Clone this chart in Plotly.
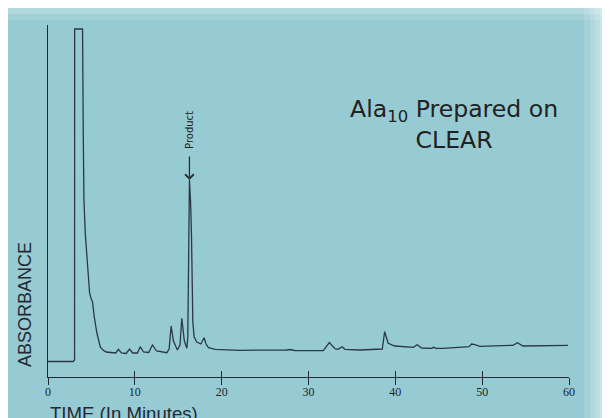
import plotly.graph_objects as go

# ---- data ----
times = [0, 0.05, 2.9, 3.0, 3.06, 3.07, 3.98, 4.06, 4.14, 4.29, 4.56, 4.79, 4.98,
         5.13, 5.33, 5.63, 6.02, 6.33, 6.7, 7.3, 7.8, 8.12, 8.45, 9.0, 9.39, 9.75,
         10.3, 10.62, 11.0, 11.6, 12.03, 12.5, 13.69, 13.95, 14.18, 14.45, 14.9,
         15.2, 15.41, 15.7, 15.99, 16.1, 16.2, 16.29, 16.42, 16.52, 16.68, 16.83,
         17.14, 17.6, 17.98, 18.2, 18.48, 19.25, 22.1, 26.0, 27.5, 27.9, 28.4,
         31.7, 32.4, 33.05, 33.4, 33.86, 34.2, 35.93, 38.5, 38.77, 39.18, 39.95,
         42.06, 42.52, 43.03, 44.17, 44.4, 44.7, 45.51, 48.5, 48.78, 49.17, 49.72,
         53.56, 54.06, 54.7, 59.9]
absorbance = [15.5, 15.5, 15.5, 16.5, 17, 348, 348, 244, 177, 144, 110, 84, 78,
              75, 60, 44, 30, 27, 25, 24.5, 24, 27.7, 24, 23.5, 28, 24,
              24, 30.3, 25, 24.5, 32, 26, 24.3, 28, 51, 36, 27,
              32, 58.7, 36, 28.7, 40, 150, 197, 175, 144, 55, 40,
              35, 33, 39.3, 33, 29.3, 27.7, 26.7, 26.5, 27, 27.5, 26.5,
              26.3, 34.5, 28.3, 27.7, 30.3, 27.7, 27, 28, 45.3, 33.7, 31,
              29.7, 32.3, 29, 28.7, 29.7, 28.7, 28.7, 30.3, 33, 32.3, 30.7,
              31.7, 34.3, 31, 31.7]
tick_vals = [0, 10, 20, 30, 40, 50, 60]
tick_text = ["0", "10", "20", "30", "40", "50", "60"]
product_time = 16.29
product_peak = 197

# page has an 8px body margin; figure is sized to fill the rest of the window
OFF = 8
W, H = 610 - OFF, 418 - OFF
ML, MT = 48 - OFF, 25 - OFF
PW, PH = 521, 352
MR, MB = W - ML - PW, H - MT - PH


def px(x):  # page pixel -> paper fraction
    return (x - OFF - ML) / PW


def py(y):
    return (H - MB - (y - OFF)) / PH


ink = "#222b33"

fig = go.Figure()
fig.add_trace(go.Scatter(x=times, y=absorbance, mode="lines",
                         line=dict(color="#2b3846", width=1.3),
                         hoverinfo="skip", showlegend=False))
# invisible helper trace so the second (inner-tick) axis is drawn
fig.add_trace(go.Scatter(x=[times[0], times[-1]], y=[absorbance[0], absorbance[-1]],
                         xaxis="x2", mode="lines", opacity=0,
                         hoverinfo="skip", showlegend=False))

shapes = []
for x0, a in [(584, 0.12), (590, 0.14), (595, 0.16), (600, 0.2), (605, 0.25)]:
    shapes.append(dict(type="rect", xref="paper", yref="paper", x0=px(x0), x1=px(610),
                       y0=py(418), y1=py(OFF), fillcolor=f"rgba(255,255,255,{a})",
                       line=dict(width=0), layer="below"))
for y1, a in [(20, 0.12), (14, 0.18)]:
    shapes.append(dict(type="rect", xref="paper", yref="paper", x0=px(OFF), x1=px(610),
                       y0=py(y1), y1=py(OFF), fillcolor=f"rgba(255,255,255,{a})",
                       line=dict(width=0), layer="below"))

annotations = [
    dict(text="Ala<sub>10</sub> Prepared on<br>CLEAR", xref="paper", yref="paper",
         x=px(454), y=py(125), xanchor="center", yanchor="middle", align="center",
         showarrow=False, font=dict(family="DejaVu Sans", size=23.6, color="#222")),
    dict(text="Product", xref="x", yref="y", x=product_time, y=377 - 129.5,
         textangle=-90, showarrow=False, xanchor="center", yanchor="middle",
         font=dict(family="DejaVu Sans", size=10, color="#222")),
    dict(text="", xref="x", yref="y", x=product_time, y=product_peak,
         showarrow=True, ax=0, ay=-25, arrowhead=4, arrowsize=1.3,
         arrowwidth=1.3, arrowcolor="#2a2f36"),
    dict(text="ABSORBANCE", xref="paper", yref="paper", x=px(25), y=py(305),
         textangle=-90, showarrow=False, xanchor="center", yanchor="middle",
         font=dict(family="Liberation Sans", size=18, color="#1f2a33")),
    dict(text="TIME (In Minutes)", xref="paper", yref="paper", x=px(48), y=py(413),
         showarrow=False, xanchor="left", yanchor="middle",
         font=dict(family="Liberation Sans", size=18.6, color="#1f2a33")),
]

fig.update_layout(
    width=W, height=H,
    margin=dict(l=ML, r=MR, t=MT, b=MB, pad=0),
    paper_bgcolor="#97cbd3",
    plot_bgcolor="rgba(0,0,0,0)",
    showlegend=False,
    hovermode=False,
    shapes=shapes,
    annotations=annotations,
    xaxis=dict(range=[0, 60], tickvals=tick_vals, ticktext=tick_text,
               showline=True, linecolor=ink, linewidth=1.3,
               ticks="outside", ticklen=7, tickwidth=1.3, tickcolor=ink,
               ticklabelstandoff=-4,
               showgrid=False, zeroline=False,
               tickfont=dict(family="Liberation Serif", size=12, color="#1a1f24")),
    xaxis2=dict(range=[0, 60], overlaying="x", anchor="y", side="bottom",
                tickvals=tick_vals, showticklabels=False,
                ticks="inside", ticklen=6, tickwidth=1.3, tickcolor=ink,
                showline=False, showgrid=False, zeroline=False),
    yaxis=dict(range=[0, PH], showline=True, linecolor=ink, linewidth=1.3,
               showticklabels=False, ticks="", showgrid=False, zeroline=False),
)

fig.write_html("out.html")
